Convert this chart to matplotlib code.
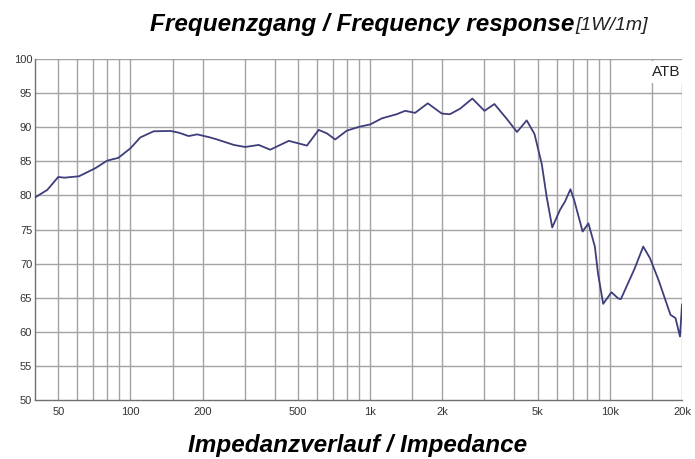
import matplotlib
matplotlib.use("Agg")
import matplotlib.pyplot as plt
from matplotlib.ticker import FixedLocator, FixedFormatter, NullFormatter

plt.rcParams['font.family'] = ['Liberation Sans', 'DejaVu Sans']

# ---- data ----
freq_hz = [40, 45, 50, 53, 61, 71.5, 80, 89, 100, 110, 125, 147, 159, 175, 190,
           215, 230, 270, 301, 343, 383, 458, 545, 610, 660, 715, 800, 910,
           1000, 1120, 1290, 1400, 1540, 1740, 1990, 2150, 2370, 2670, 3000,
           3300, 3700, 4100, 4500, 4850, 5200, 5450, 5750, 6200, 6500, 6850,
           7100, 7700, 8140, 8660, 8930, 9380, 10160, 10830, 11120, 12700,
           13780, 14700, 15960, 17900, 18790, 19620, 20000]
spl_db = [79.7, 80.8, 82.7, 82.6, 82.8, 84.0, 85.1, 85.5, 86.9, 88.5, 89.4,
          89.45, 89.2, 88.7, 88.95, 88.5, 88.2, 87.4, 87.1, 87.4, 86.7, 88.0,
          87.3, 89.6, 89.1, 88.2, 89.5, 90.1, 90.4, 91.3, 91.9, 92.4, 92.1,
          93.5, 92.0, 91.9, 92.7, 94.2, 92.4, 93.4, 91.3, 89.3, 91.0, 89.0,
          84.6, 79.8, 75.3, 77.9, 79.1, 80.9, 79.3, 74.7, 75.9, 72.5, 68.5,
          64.1, 65.8, 64.9, 64.8, 69.3, 72.5, 70.8, 67.6, 62.5, 62.0, 59.3,
          64.0]

grid_freqs = [50, 60, 70, 80, 90, 100, 150, 200, 300, 400, 500, 600, 700, 800,
              900, 1000, 1500, 2000, 3000, 4000, 5000, 6000, 7000, 8000, 9000,
              10000, 15000, 20000]
xtick_vals = [50, 100, 200, 500, 1000, 2000, 5000, 10000, 20000]
xtick_labels = ['50', '100', '200', '500', '1k', '2k', '5k', '10k', '20k']
ytick_vals = [50, 55, 60, 65, 70, 75, 80, 85, 90, 95, 100]

title_main = "Frequenzgang / Frequency response"
title_sub = "[1W/1m]"
bottom_title = "Impedanzverlauf / Impedance"
corner_label = "ATB"

fig = plt.figure(figsize=(6.95, 4.59), dpi=100)
ax = fig.add_axes([35 / 695, 1 - 400 / 459, (682 - 35) / 695, (400 - 59) / 459])

ax.set_xscale('log')
ax.set_xlim(40, 20000)
ax.set_ylim(50, 100)

# grid
grid_color = '#a3a3a3'
for g in grid_freqs:
    ax.axvline(g, color=grid_color, lw=1.0, zorder=1)
for y in ytick_vals[1:]:
    ax.axhline(y, color=grid_color, lw=1.0, zorder=1)

ax.plot(freq_hz, spl_db, color='#3e3e7c', lw=1.3, zorder=3)

ax.xaxis.set_major_locator(FixedLocator(xtick_vals))
ax.xaxis.set_major_formatter(FixedFormatter(xtick_labels))
ax.xaxis.set_minor_locator(FixedLocator([]))
ax.xaxis.set_minor_formatter(NullFormatter())
ax.set_yticks(ytick_vals)
ax.set_yticklabels([str(v) for v in ytick_vals])
ax.tick_params(axis='both', length=0, labelsize=8, labelcolor='#333333')
ax.tick_params(axis='x', pad=5)
ax.tick_params(axis='y', pad=2)
for lbl in ax.get_yticklabels():
    lbl.set_verticalalignment('center_baseline')

for s in ['top', 'right']:
    ax.spines[s].set_visible(False)
for s in ['left', 'bottom']:
    ax.spines[s].set_color('#707070')
    ax.spines[s].set_linewidth(1.0)

ax.text(0.997, 0.962, corner_label, transform=ax.transAxes, ha='right', va='center',
        fontsize=11, color='#222222', zorder=5,
        bbox=dict(boxstyle='square,pad=0.25', facecolor='white', edgecolor='none'))

# titles
t1 = fig.text(150 / 695, 1 - 30.5 / 459, title_main, ha='left', va='baseline',
              fontsize=17.5, fontweight='bold', fontstyle='italic', color='black')
fig.canvas.draw()
bb = t1.get_window_extent(renderer=fig.canvas.get_renderer())
fig.text(bb.x1 / fig.bbox.width + 0.002, 1 - 30.5 / 459, title_sub, ha='left', va='baseline',
         fontsize=14, fontstyle='italic', color='#222222')

fig.text(358 / 695, 1 - 452 / 459, bottom_title, ha='center', va='baseline',
         fontsize=17.5, fontweight='bold', fontstyle='italic', color='black')

fig.savefig('out.png', dpi=100)
